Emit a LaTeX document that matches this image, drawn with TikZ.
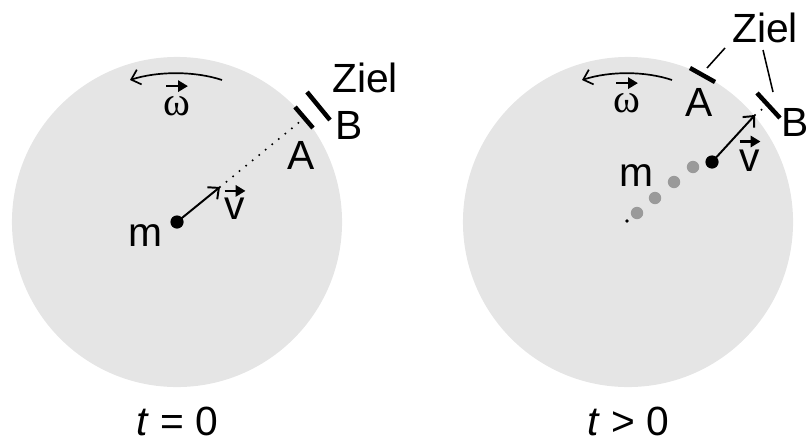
\documentclass[tikz,border=0pt]{standalone}
\usepackage{fontspec}
\setmainfont{Liberation Sans}
\newfontfamily\omegafont{Liberation Serif}
\usetikzlibrary{arrows.meta, positioning, calc}
\definecolor{cDisk}{HTML}{E5E5E5}
\definecolor{cTrail}{HTML}{9A9A9A}

\begin{document}
\begin{tikzpicture}[
    x=0.025cm, y=0.025cm,
    font=\fontsize{29}{34}\selectfont,
    disk/.style={circle, fill=cDisk, inner sep=0pt, minimum size=8.25cm},
    mass/.style={circle, fill=black, inner sep=0pt, minimum size=0.33cm},
    trail/.style={circle, fill=cTrail, inner sep=0pt, minimum size=0.31cm},
    lbl/.style={inner sep=0pt},
    vel/.style={-{Straight Barb[length=6pt, width=11pt]}, line width=1.4pt},
    track/.style={line width=1.6pt, line cap=round, dash pattern=on 0pt off 6pt},
    target/.style={line width=3.2pt},
    leader/.style={line width=1.1pt},
    rot/.style={-{Straight Barb[length=6pt, width=11pt]}, line width=1.2pt},
    vecarr/.style={-{Triangle[length=7pt, width=8pt]}, line width=1.6pt},
]
\useasboundingbox (0,0) rectangle (807,443);

% ================================================================
%  LEFT: t = 0
% ================================================================

\node[disk] (diskL) at (177,221) {};
\node[mass] (massL) at (diskL.center) {};
\node[lbl] (mL) at (145,207) {m};

\coordinate (vtipL) at (220,256);
\coordinate (rimL)  at (302,323);
\draw[vel] (massL.center) -- (vtipL);
\draw[track] (vtipL) -- (rimL);

% target marks A (on disk) and B (fixed)
\coordinate (aL1) at (295,336); \coordinate (aL2) at (313,315);
\coordinate (bL1) at (307,351); \coordinate (bL2) at (330,323);
\draw[target] (aL1) -- (aL2);
\draw[target] (bL1) -- (bL2);

\node[lbl] (AL)    at (301,288) {A};
\node[lbl] (BL)    at (349,318) {B};
\node[lbl] (zielL) at (365,365) {Ziel};

\node[lbl] (vL) at (235,234) {v};
\draw[vecarr] ([yshift=5pt]vL.north west) -- ([yshift=5pt]vL.north east);

% rotation
\coordinate (rotLa) at (222,363);
\coordinate (rotLb) at (130,363);
\draw[rot] (rotLa) .. controls (195,372) and (158,372) .. (rotLb);
\node[lbl, font=\fontsize{29}{34}\omegafont] (omL) at (177,337) {ω};
\draw[vecarr] ([yshift=7pt, xshift=2pt]omL.north west) -- ([yshift=7pt, xshift=-2pt]omL.north east);

\node[lbl, anchor=base] (tL) at (177,8) {\textit{t} = 0};

% ================================================================
%  RIGHT: t > 0
% ================================================================

\node[disk] (diskR) at (628,221) {};
\node[circle, fill=black, inner sep=0pt, minimum size=0.09cm] (startR) at (627,222) {};
\node[trail] (g1) at (637,230) {};
\node[trail] (g2) at (655,245) {};
\node[trail] (g3) at (674,261) {};
\node[trail] (g4) at (693,276) {};
\node[mass] (massR) at (712,281) {};
\node[lbl] (mR) at (636,267) {m};

\coordinate (vtipR) at (755,328);
\coordinate (rimR)  at (765,336);
\draw[vel] (massR.center) -- (vtipR);
\draw[track] (vtipR) -- (rimR);

% A has turned with the disk, B stays
\coordinate (aR1) at (690,375); \coordinate (aR2) at (715,361);
\coordinate (bR1) at (757,350); \coordinate (bR2) at (780,325);
\draw[target] (aR1) -- (aR2);
\draw[target] (bR1) -- (bR2);

\node[lbl] (AR)    at (699,341) {A};
\node[lbl] (BR)    at (795,321) {B};
\node[lbl] (zielR) at (765,415) {Ziel};

\coordinate (zA) at (725,395); \coordinate (zAe) at (707,375);
\coordinate (zB) at (763,393); \coordinate (zBe) at (773,351);
\draw[leader] (zA) -- (zAe);
\draw[leader] (zB) -- (zBe);

\node[lbl] (vR) at (750,282) {v};
\draw[vecarr] ([yshift=6pt]vR.north west) -- ([yshift=6pt]vR.north east);

\coordinate (rotRa) at (672,363);
\coordinate (rotRb) at (582,363);
\draw[rot] (rotRa) .. controls (645,372) and (610,372) .. (rotRb);
\node[lbl, font=\fontsize{29}{34}\omegafont] (omR) at (627,340) {ω};
\draw[vecarr] ([yshift=7pt, xshift=2pt]omR.north west) -- ([yshift=7pt, xshift=-2pt]omR.north east);

\node[lbl, anchor=base] (tR) at (628,8) {\textit{t} > 0};

\end{tikzpicture}
\end{document}
